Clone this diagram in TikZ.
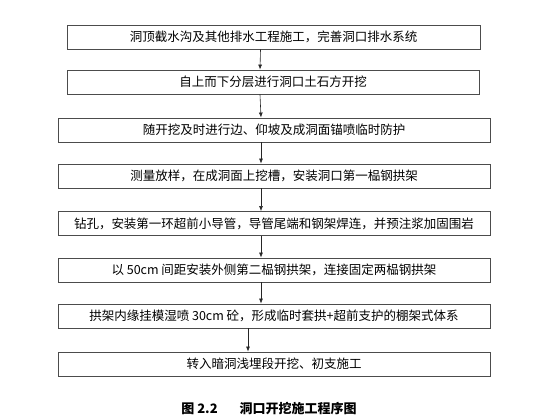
\documentclass[tikz,border=0pt]{standalone}
\usepackage{fontspec}
\usetikzlibrary{arrows.meta}
\newfontfamily\cjk{Noto Sans CJK SC}
\begin{document}
\begin{tikzpicture}[x=1pt, y=-1pt]
	\tikzstyle{stage} = [ draw=black!70, line width=0.9pt, rectangle, minimum height=24pt, inner sep=0pt, font={\cjk\fontsize{12.5}{14}\selectfont} ];
	\tikzstyle{point} = [ ->, >={Latex[length=5pt, width=4pt]}, line width=0.6pt, black!85 ];
	\tikzstyle{caption} = [ font={\cjk\bfseries\fontsize{13}{15}\selectfont} ];

	\useasboundingbox (0,0) rectangle (560,420);

	\node[stage, minimum width=413pt] (s1) at (273.5,37) {洞顶截水沟及其他排水工程施工，完善洞口排水系统};
	\node[stage, minimum width=412pt] (s2) at (273,82) {自上而下分层进行洞口土石方开挖};

	\foreach \y/\txt [count=\i from 3] in {130/随开挖及时进行边、仰坡及成洞面锚喷临时防护,
		176/测量放样，在成洞面上挖槽，安装洞口第一榀钢拱架,
		223.5/钻孔，安装第一环超前小导管，导管尾端和钢架焊连，并预注浆加固围岩,
		270/以 50cm 间距安装外侧第二榀钢拱架，连接固定两榀钢拱架,
		316/拱架内缘挂模湿喷 30cm 砼，形成临时套拱+超前支护的棚架式体系,
		364/转入暗洞浅埋段开挖、初支施工} {
		\node[stage, minimum width=432pt] (s\i) at (274,\y) {\txt};
	}

	\foreach \i/\j in {1/2,2/3,3/4,4/5,5/6,6/7} {
		\draw[point] ([xshift=-13pt]s\i.south) to ([xshift=-13pt]s\j.north);
	}
	\draw[point] ([xshift=-26pt]s7.south) to ([xshift=-26pt]s8.north);

	\node[caption] (cap) at (269,409) {图 2.2\hspace{22pt}洞口开挖施工程序图};
\end{tikzpicture}
\end{document}
